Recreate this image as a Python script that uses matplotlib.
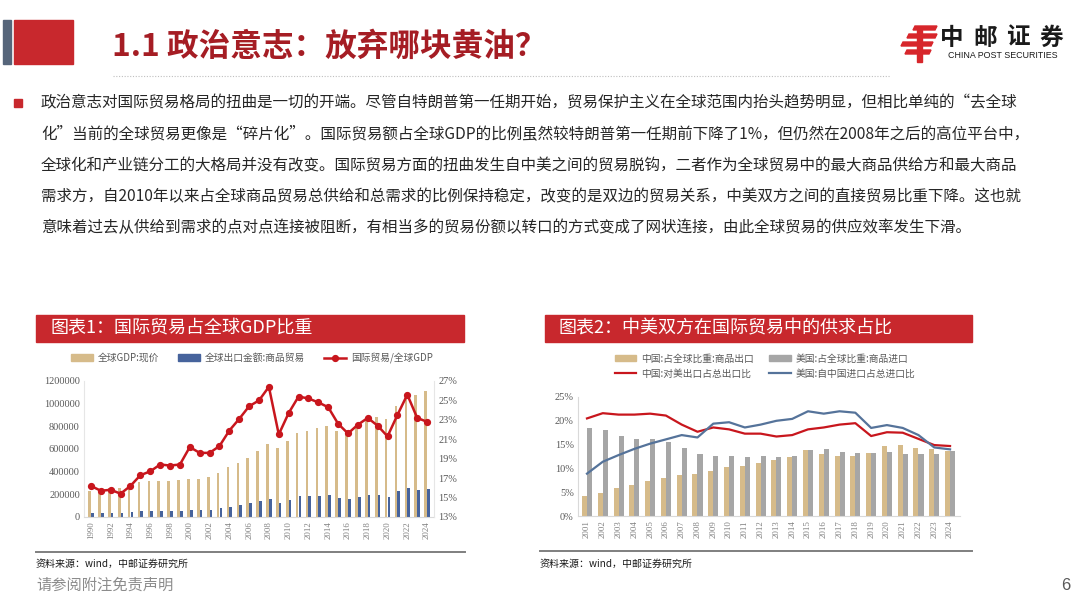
import matplotlib
matplotlib.use('Agg')
import matplotlib.pyplot as plt
from matplotlib.patches import Rectangle, Polygon, Patch
from matplotlib.lines import Line2D
import numpy as np

plt.rcParams['font.family'] = ['Noto Sans CJK SC', 'DejaVu Sans']
plt.rcParams['axes.unicode_minus'] = False

# ---------------- data ----------------
years1 = list(range(1990, 2025))
gdp = [226000, 239000, 254000, 259000, 278000, 310000, 316000, 315000, 314000, 326000,
       338000, 336000, 350000, 392000, 441000, 478000, 518000, 583000, 640000, 612000,
       668000, 745000, 762000, 782000, 802000, 762000, 768000, 814000, 862000, 880000,
       862000, 983000, 1072000, 1074000, 1116000]
exports = [34900, 35100, 37800, 37900, 43300, 51700, 54000, 55900, 55000, 57100,
           64500, 61900, 64900, 75900, 92200, 105100, 121300, 140200, 161600, 125600,
           153000, 183400, 185000, 189500, 190000, 165500, 160400, 177400, 195500, 190200,
           176500, 226000, 254000, 240000, 247000]
ratio = [16.2, 15.7, 15.8, 15.4, 16.2, 17.3, 17.7, 18.4, 18.3, 18.4,
         20.2, 19.6, 19.6, 20.3, 21.9, 23.1, 24.4, 25.0, 26.4, 21.5,
         23.7, 25.4, 25.2, 24.8, 24.3, 22.6, 21.6, 22.5, 23.2, 22.4,
         21.3, 23.5, 25.6, 23.2, 22.8]

years2 = list(range(2001, 2025))
cn_export_share = [4.2, 4.9, 5.8, 6.5, 7.3, 8.0, 8.7, 8.9, 9.5, 10.3, 10.4, 11.1,
                   11.8, 12.4, 13.9, 13.1, 12.7, 12.7, 13.2, 14.7, 14.9, 14.2, 14.1, 13.6]
us_import_share = [18.5, 18.1, 16.9, 16.2, 16.2, 15.5, 14.2, 13.1, 12.6, 12.7, 12.3, 12.6,
                   12.3, 12.6, 13.9, 14.1, 13.5, 13.2, 13.2, 13.5, 13.1, 13.1, 13.1, 13.6]
cn_to_us = [20.5, 21.6, 21.3, 21.3, 21.5, 21.1, 19.2, 17.7, 18.6, 18.2, 17.3, 17.3,
            16.7, 17.0, 18.2, 18.6, 19.2, 19.5, 16.8, 17.6, 17.5, 16.2, 14.9, 14.7]
us_from_cn = [8.9, 11.4, 12.8, 14.1, 15.2, 16.1, 17.0, 16.5, 19.4, 19.7, 18.6, 19.2,
              20.0, 20.4, 22.0, 21.5, 22.0, 21.7, 18.5, 19.1, 18.5, 17.0, 14.4, 14.0]

title = "1.1 政治意志：放弃哪块黄油？"
body_lines = [
    "政治意志对国际贸易格局的扭曲是一切的开端。尽管自特朗普第一任期开始，贸易保护主义在全球范围内抬头趋势明显，但相比单纯的“去全球",
    "化”当前的全球贸易更像是“碎片化”。国际贸易额占全球GDP的比例虽然较特朗普第一任期前下降了1%，但仍然在2008年之后的高位平台中，",
    "全球化和产业链分工的大格局并没有改变。国际贸易方面的扭曲发生自中美之间的贸易脱钩，二者作为全球贸易中的最大商品供给方和最大商品",
    "需求方，自2010年以来占全球商品贸易总供给和总需求的比例保持稳定，改变的是双边的贸易关系，中美双方之间的直接贸易比重下降。这也就",
    "意味着过去从供给到需求的点对点连接被阻断，有相当多的贸易份额以转口的方式变成了网状连接，由此全球贸易的供应效率发生下滑。",
]
chart1_title = "图表1：国际贸易占全球GDP比重"
chart2_title = "图表2：中美双方在国际贸易中的供求占比"
legend1 = ["全球GDP:现价", "全球出口金额:商品贸易", "国际贸易/全球GDP"]
legend2 = ["中国:占全球比重:商品出口", "美国:占全球比重:商品进口",
           "中国:对美出口占总出口比", "美国:自中国进口占总进口比"]
source = "资料来源：wind，中邮证券研究所"
footer = "请参阅附注免责声明"
page = "6"

# ---------------- figure ----------------
W, H = 1080, 608
fig = plt.figure(figsize=(10.8, 6.08), dpi=100)
fig.patch.set_facecolor('white')

def fx(x): return x / W
def fy(y): return 1 - y / H
def rect(x0, y0, x1, y1): return [x0 / W, 1 - y1 / H, (x1 - x0) / W, (y1 - y0) / H]

RED = '#C8282D'
TITLE_RED = '#A51D24'
TAN = '#D6BB8A'
BLUE_BAR = '#46639C'
LINE_RED = '#C8161D'
GREY_BAR = '#A6A6A6'
LINE_BLUE = '#55739A'
TICK = '#595959'
serif = ['Liberation Serif', 'DejaVu Serif']

# header decor
fig.patches.append(Rectangle((fx(3), fy(64)), (8) / W, 44 / H, transform=fig.transFigure,
                             color='#56657A', zorder=1))
fig.patches.append(Rectangle((fx(14), fy(64)), 59 / W, 44 / H, transform=fig.transFigure,
                             color=RED, zorder=1))
fig.text(fx(112), fy(47), title, fontsize=22.8, fontweight='bold', color=TITLE_RED,
         va='center', ha='left')
fig.add_artist(Line2D([fx(113), fx(890)], [fy(76), fy(76)], transform=fig.transFigure,
                      color='#BFBFBF', lw=0.8, ls=(0, (1, 1.5))))

# logo
lx, ly = 903, 24
def fpoly(pts, color):
    fig.patches.append(Polygon([(fx(lx + a), fy(ly + b)) for a, b in pts], closed=True,
                               transform=fig.transFigure, color=color, zorder=2))
fpoly([(12, 2), (34, 2), (32, 6), (10, 6)], '#D7262B')
fpoly([(6, 10), (34, 10), (32, 14), (4, 14)], '#D7262B')
fpoly([(0, 18), (30, 18), (28, 22), (-2, 22)], '#D7262B')
fpoly([(4, 26), (28, 26), (26, 30), (2, 30)], '#D7262B')
fpoly([(14, 6), (19, 6), (19, 38), (14, 38)], '#D7262B')
for i, ch in enumerate("中邮证券"):
    fig.text(fx(952 + i * 33), fy(38), ch, fontsize=17, fontweight='bold', color='#1A1A1A',
             ha='center', va='center')
fig.text(fx(1003), fy(56), "CHINA POST SECURITIES", fontsize=6.4, color='#1A1A1A',
         ha='center', va='center', family=['Liberation Sans', 'DejaVu Sans'])

# body
fig.patches.append(Rectangle((fx(14), fy(107)), 8 / W, 8 / H, transform=fig.transFigure,
                             color=RED))
for i, line in enumerate(body_lines):
    fig.text(fx(41), fy(103 + i * 31.2), line, fontsize=11.2, color='#262626',
             ha='left', va='center')

# chart title bars
for (x0, x1, t) in [(36, 464, chart1_title), (545, 972, chart2_title)]:
    fig.patches.append(Rectangle((fx(x0), fy(342)), (x1 - x0) / W, 27 / H,
                                 transform=fig.transFigure, color=RED))
    fig.text(fx(x0 + 14), fy(328.5), t, fontsize=13, color='white', ha='left', va='center')

# ---------------- chart 1 ----------------
ax1 = fig.add_axes(rect(84, 381, 434, 517))
x1 = np.arange(len(years1))
ax1.bar(x1 - 0.14, gdp, width=0.27, color=TAN, zorder=2)
ax1.bar(x1 + 0.14, exports, width=0.27, color=BLUE_BAR, zorder=2)
ax1.set_xlim(-0.7, len(years1) - 0.3)
ax1.set_ylim(0, 1200000)
ax1.set_yticks(np.arange(0, 1200001, 200000))
ax1.set_yticklabels([str(int(v)) for v in np.arange(0, 1200001, 200000)],
                    family=serif, fontsize=7.5, color=TICK)
ax1.set_xticks(x1[::2])
ax1.set_xticklabels([str(y) for y in years1[::2]], rotation=90, family=serif,
                    fontsize=6.3, color='#7F7F7F')
ax1b = ax1.twinx()
ax1b.plot(x1, ratio, color=LINE_RED, lw=1.8, marker='o', ms=4.2, zorder=3)
ax1b.set_ylim(13, 27)
ax1b.set_yticks(range(13, 28, 2))
ax1b.set_yticklabels([f"{v}%" for v in range(13, 28, 2)], family=serif, fontsize=7.5,
                     color=TICK)
for a in (ax1, ax1b):
    for s in a.spines.values():
        s.set_visible(False)
    a.tick_params(length=0, pad=3)
ax1.spines['bottom'].set_visible(True)
ax1.spines['bottom'].set_color('#D9D9D9')
ax1.spines['left'].set_visible(True)
ax1.spines['left'].set_color('#E6E6E6')
ax1b.spines['right'].set_visible(True)
ax1b.spines['right'].set_color('#E6E6E6')
ax1.set_facecolor('none')

fig.legend([Patch(color=TAN), Patch(color=BLUE_BAR),
            Line2D([0], [0], color=LINE_RED, lw=1.8, marker='o', ms=4.2)],
           legend1, loc='center', bbox_to_anchor=(fx(252), fy(358)), ncol=3, frameon=False,
           fontsize=7, handlelength=2.2, handleheight=0.6, columnspacing=2.0,
           handletextpad=0.5, labelcolor=TICK)

# ---------------- chart 2 ----------------
ax2 = fig.add_axes(rect(578, 397, 960, 516))
x2 = np.arange(len(years2))
ax2.bar(x2 - 0.16, cn_export_share, width=0.32, color=TAN, zorder=2)
ax2.bar(x2 + 0.16, us_import_share, width=0.32, color=GREY_BAR, zorder=2)
ax2.plot(x2, cn_to_us, color=LINE_RED, lw=1.6, zorder=3)
ax2.plot(x2, us_from_cn, color=LINE_BLUE, lw=1.6, zorder=3)
ax2.set_xlim(-0.57, len(years2) - 0.37)
ax2.set_ylim(0, 25)
ax2.set_yticks(range(0, 26, 5))
ax2.set_yticklabels([f"{v}%" for v in range(0, 26, 5)], family=serif, fontsize=7.5,
                    color=TICK)
ax2.set_xticks(x2)
ax2.set_xticklabels([str(y) for y in years2], rotation=90, family=serif, fontsize=6.3,
                    color='#7F7F7F')
for s in ax2.spines.values():
    s.set_visible(False)
ax2.spines['bottom'].set_visible(True)
ax2.spines['bottom'].set_color('#D9D9D9')
ax2.spines['left'].set_visible(True)
ax2.spines['left'].set_color('#D9D9D9')
ax2.tick_params(length=0, pad=3)

fig.legend([Patch(color=TAN), Line2D([0], [0], color=LINE_RED, lw=1.6),
            Patch(color=GREY_BAR), Line2D([0], [0], color=LINE_BLUE, lw=1.6)],
           [legend2[0], legend2[2], legend2[1], legend2[3]],
           loc='center', bbox_to_anchor=(fx(765), fy(366)), ncol=2, frameon=False,
           fontsize=7, handlelength=2.2, handleheight=0.6, columnspacing=1.6,
           handletextpad=0.5, labelspacing=0.5, labelcolor=TICK)

# ---------------- footer ----------------
for (x0, x1, ys, xt) in [(36, 465, 552, 36), (540, 972, 551, 540)]:
    fig.add_artist(Line2D([fx(x0), fx(x1)], [fy(ys), fy(ys)], transform=fig.transFigure,
                          color='#7F7F7F', lw=1.4))
    fig.text(fx(xt), fy(564), source, fontsize=7.2, color='#1A1A1A', ha='left', va='center')

fig.text(fx(36), fy(585), footer, fontsize=11, color='#8C8C8C', ha='left', va='center')
fig.text(fx(1066), fy(585), page, fontsize=12, color='#595959', ha='center', va='center',
         family=['Liberation Sans', 'DejaVu Sans'])

fig.savefig('out.png', dpi=100, facecolor='white')
